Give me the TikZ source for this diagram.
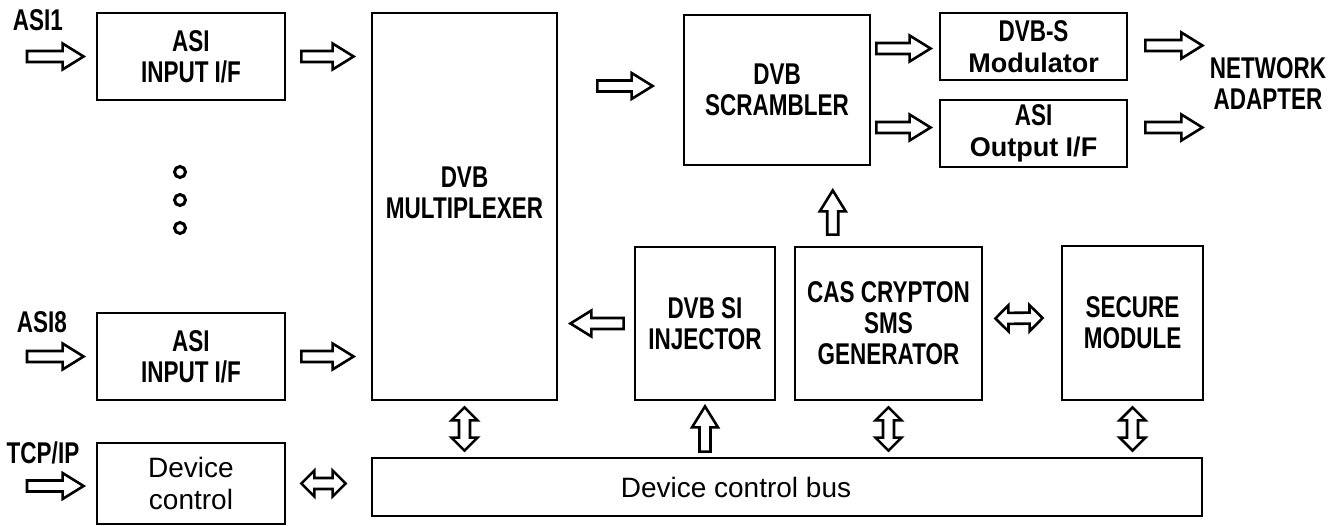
\documentclass[tikz,border=0pt]{standalone}
\usepackage{fontspec}
\setmainfont{Liberation Sans}
\newfontfamily\capsfont{Liberation Sans}[FakeStretch=0.75]
\usetikzlibrary{calc}
\newcommand{\capstext}{\capsfont\bfseries\fontsize{30}{31}\selectfont}
\newcommand{\lowtext}{\fontsize{28}{32}\selectfont}
\newcommand{\midtext}{\bfseries\fontsize{27}{31}\selectfont}

\tikzset{
  box/.style={draw, line width=2.8pt, inner sep=0pt, align=center, font=\capstext},
  txt/.style={align=center, font=\capstext},
  blk/.style={draw, line width=2.6pt, line join=miter, to path={
    let \p1=(\tikztostart), \p2=(\tikztotarget),
        \n1={atan2(\y2-\y1,\x2-\x1)}, \n2={veclen(\x2-\x1,\y2-\y1)} in
    [shift={(\p1)}, rotate=\n1]
    (0pt,-5.5pt) -- (\n2-21pt,-5.5pt) -- (\n2-21pt,-13pt) -- (\n2+0pt,0pt)
    -- (\n2-21pt,13pt) -- (\n2-21pt,5.5pt) -- (0pt,5.5pt) -- cycle}},
  dblk/.style={draw, line width=2.6pt, line join=miter, to path={
    let \p1=(\tikztostart), \p2=(\tikztotarget),
        \n1={atan2(\y2-\y1,\x2-\x1)}, \n2={veclen(\x2-\x1,\y2-\y1)} in
    [shift={(\p1)}, rotate=\n1]
    (0pt,0pt) -- (13pt,13pt) -- (13pt,5.5pt) -- (\n2-13pt,5.5pt) -- (\n2-13pt,13pt)
    -- (\n2+0pt,0pt) -- (\n2-13pt,-13pt) -- (\n2-13pt,-5.5pt) -- (13pt,-5.5pt)
    -- (13pt,-13pt) -- cycle}}
}

\begin{document}
\begin{tikzpicture}[x=1pt, y=-1pt]
\useasboundingbox (0,0) rectangle (1344,526);

% input side
\node[box, minimum width=188pt, minimum height=87pt] (asiA) at (191,56.5) {ASI\\INPUT I/F};
\node[box, minimum width=188pt, minimum height=87pt] (asiH) at (191,356.5) {ASI\\INPUT I/F};
\node[box, font=\lowtext, minimum width=188pt, minimum height=81pt] (devctl) at (191,483.5) {Device\\control};

\node[txt] (lblA) at (38,20) {ASI1};
\node[txt] (lblH) at (42,322) {ASI8};
\node[txt] (lblC) at (43,453) {TCP/IP};

\coordinate (inA) at (27,56.5);
\coordinate (inH) at (27,356.5);
\coordinate (inC) at (27,486);

\foreach \yy in {172,200,228}
  \draw[line width=3pt] (180,\yy) circle (5.5pt);

% core blocks
\node[box, minimum width=185pt, minimum height=387pt,
      label={[txt, yshift=14pt]center:DVB\\MULTIPLEXER}] (mux) at (464.5,206.5) {};
\node[box, minimum width=830pt, minimum height=58pt,
      label={[font=\lowtext, xshift=-51pt]center:Device control bus}] (bus) at (787,487) {};
\node[box, minimum width=186pt, minimum height=150pt] (scr) at (777,90) {DVB\\SCRAMBLER};
\node[box, font=\midtext, minimum width=187pt, minimum height=67pt] (mod) at (1033.5,46.5) {{\capstext DVB-S}\\Modulator};
\node[box, font=\midtext, minimum width=187pt, minimum height=67pt] (asiout) at (1033.5,133.5) {{\capstext ASI}\\Output I/F};
\node[box, minimum width=140pt, minimum height=153pt] (inj) at (705,323.5) {DVB SI\\INJECTOR};
\node[box, minimum width=187pt, minimum height=153pt] (cas) at (888.5,323.5) {CAS CRYPTON\\SMS\\GENERATOR};
\node[box, minimum width=141pt, minimum height=154pt] (sec) at (1132.5,323) {SECURE\\MODULE};
\node[txt] (net) at (1268,84) {NETWORK\\ADAPTER};

% data arrows
\draw[blk] (inA) to ([xshift=-12pt]asiA.west);
\draw[blk] (inH) to ([xshift=-12pt]asiH.west);
\draw[blk] (inC) to ($(devctl.west |- inC)+(-12pt,0)$);
\draw[blk] ([xshift=15pt]asiA.east) to ($(mux.west |- asiA)+(-17pt,0)$);
\draw[blk] ([xshift=15pt]asiH.east) to ($(mux.west |- asiH)+(-17pt,0)$);
\draw[blk] ($(mux.east |- scr)+(39pt,4pt)$) to ([xshift=-30pt, yshift=4pt]scr.west);
\draw[blk] ($(scr.east |- mod)+(5pt,-2pt)$) to ([xshift=-8pt, yshift=-2pt]mod.west);
\draw[blk] ($(scr.east |- asiout)+(5pt,6pt)$) to ([xshift=-8pt, yshift=6pt]asiout.west);
\draw[blk] ([xshift=17pt, yshift=1pt]mod.east) to ($(mod.east)+(74pt,1pt)$);
\draw[blk] ([xshift=17pt, yshift=6pt]asiout.east) to ($(asiout.east)+(74pt,6pt)$);
\draw[blk] ($(cas.north)!0.5!(cas.north -| scr.south)+(0,11pt)$) to ($(scr.south)!0.5!(scr.south -| cas.north)+(0,-24pt)$);
\draw[blk] ([xshift=-10pt]inj.west) to ($(mux.east |- inj)+(12pt,0)$);

% control arrows
\draw[dblk] ([xshift=15pt]devctl.east) to ($(bus.west |- devctl)+(-25pt,0)$);
\draw[dblk] ([xshift=12pt, yshift=5pt]cas.east) to ([xshift=-18pt, yshift=5pt]sec.west);
\draw[dblk] ($(bus.north -| mux.south)+(0,6pt)$) to ([yshift=-6pt]mux.south);
\draw[blk] ($(bus.north -| inj.south)+(0,5pt)$) to ([yshift=-5pt]inj.south);
\draw[dblk] ($(bus.north -| cas.south)+(0,6pt)$) to ([yshift=-6pt]cas.south);
\draw[dblk] ($(bus.north -| sec.south)+(0,6pt)$) to ([yshift=-6pt]sec.south);
\end{tikzpicture}
\end{document}
